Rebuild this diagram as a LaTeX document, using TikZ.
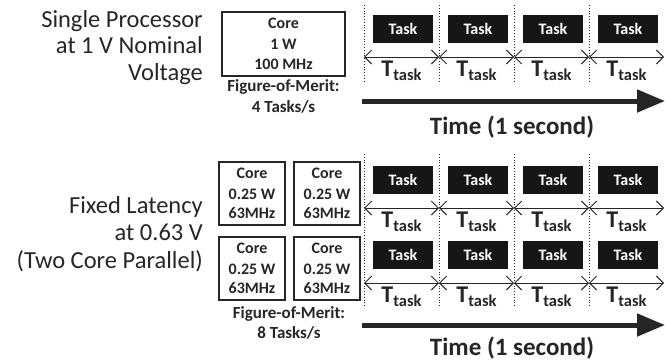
\documentclass[tikz,border=0pt]{standalone}
\usepackage{fontspec}
\setmainfont{Carlito}
\usetikzlibrary{arrows.meta}
\definecolor{ink}{HTML}{262626}
\definecolor{taskfill}{HTML}{161616}
\begin{document}
\begin{tikzpicture}[x=1pt,y=-1pt,
  lbl/.style={font=\fontsize{24.5}{27}\selectfont, text=ink, anchor=base east, inner sep=0},
  corebox/.style={draw=ink, line width=1.2pt, inner sep=0},
  coretxt/.style={font=\bfseries\fontsize{16}{18}\selectfont, text=ink, anchor=base, inner sep=0},
  fom/.style={font=\bfseries\fontsize{17}{20}\selectfont, text=ink, anchor=base, inner sep=0},
  taskbox/.style={fill=taskfill, minimum width=60pt, minimum height=28pt, inner sep=0, text=white, font=\bfseries\fontsize{16}{18}\selectfont},
  divider/.style={draw=ink, line width=0.8pt, dotted},
  tspan/.style={draw=ink, line width=0.9pt, {Straight Barb[length=7pt,width=14pt]}-{Straight Barb[length=7pt,width=14pt]}},
  ttask/.style={font=\bfseries\fontsize{24}{26}\selectfont, text=ink, anchor=base, inner sep=0},
  timearrow/.style={draw=ink, line width=5pt, -{Triangle[length=28pt,width=22pt]}},
  timelbl/.style={font=\bfseries\fontsize{25}{28}\selectfont, text=ink, anchor=base, inner sep=0}
]
\useasboundingbox (0,0) rectangle (666,360);
\newcommand{\ttxt}{T{\fontsize{16.5}{18}\selectfont\raisebox{-4pt}{task}}}

% ---------- top: single processor ----------
\node[lbl] (s1) at (203,27) {Single Processor};
\node[lbl] (s2) at (203,53.5) {at 1 V Nominal};
\node[lbl] (s3) at (203,80) {Voltage};

\node[corebox, minimum width=123pt, minimum height=64pt] (bigcore) at (283.5,44) {};
\node[coretxt] (bc1) at (283.5,28.5) {Core};
\node[coretxt] (bc2) at (283.5,49.5) {1 W};
\node[coretxt] (bc3) at (283.5,69.5) {100 MHz};
\node[fom] (f1) at (283.5,91) {Figure-of-Merit:};
\node[fom] (f2) at (283.5,112) {4 Tasks/s};

\foreach \i in {0,...,3} {
  \coordinate (tdt\i) at ({364+75*\i},5);
  \coordinate (tdb\i) at ({364+75*\i},83);
  \draw[divider] (tdt\i) -- (tdb\i);
  \node[taskbox] (tt\i) at ({364+75*\i+39},29) {Task};
  \node[ttask] (tl\i) at ({364+75*\i+37.5},76) {\ttxt};
}
\foreach \i in {0,...,4} { \coordinate (ta\i) at ({364+75*\i},57); }
\foreach \i [count=\j] in {0,...,3} { \draw[tspan] (ta\i) -- (ta\j); }

\coordinate (tas) at (362,101);
\coordinate (tae) at (665,101);
\draw[timearrow] (tas) -- (tae);
\node[timelbl] (time1) at (512,134) {Time (1 second)};

% ---------- bottom: two core parallel ----------
\node[lbl] (p1) at (203,213) {Fixed Latency};
\node[lbl] (p2) at (203,240.5) {at 0.63 V};
\node[lbl] (p3) at (203,268) {(Two Core Parallel)};

\foreach \cx/\n in {252/a,327/b} {
  \node[corebox, minimum width=66pt, minimum height=63pt] (cu\n) at (\cx,193.5) {};
  \node[coretxt] (cu\n1) at (\cx,178) {Core};
  \node[coretxt] (cu\n2) at (\cx,199) {0.25 W};
  \node[coretxt] (cu\n3) at (\cx,218) {63MHz};
  \node[corebox, minimum width=66pt, minimum height=63pt] (cl\n) at (\cx,268.5) {};
  \node[coretxt] (cl\n1) at (\cx,253) {Core};
  \node[coretxt] (cl\n2) at (\cx,274) {0.25 W};
  \node[coretxt] (cl\n3) at (\cx,293) {63MHz};
}
\node[fom] (g1) at (289,318) {Figure-of-Merit:};
\node[fom] (g2) at (289,338) {8 Tasks/s};

\foreach \i in {0,...,3} {
  \coordinate (bdt\i) at ({364+75*\i},154);
  \coordinate (bdb\i) at ({364+75*\i},306);
  \draw[divider] (bdt\i) -- (bdb\i);
  \node[taskbox] (bu\i) at ({364+75*\i+39},180) {Task};
  \node[taskbox] (bl\i) at ({364+75*\i+39},254.5) {Task};
  \node[ttask] (bul\i) at ({364+75*\i+37.5},227) {\ttxt};
  \node[ttask] (bll\i) at ({364+75*\i+37.5},302) {\ttxt};
}
\foreach \i in {0,...,4} {
  \coordinate (bua\i) at ({364+75*\i},208);
  \coordinate (bla\i) at ({364+75*\i},283);
}
\foreach \i [count=\j] in {0,...,3} {
  \draw[tspan] (bua\i) -- (bua\j);
  \draw[tspan] (bla\i) -- (bla\j);
}

\coordinate (bas) at (362,325);
\coordinate (bae) at (665,325);
\draw[timearrow] (bas) -- (bae);
\node[timelbl] (time2) at (512,355) {Time (1 second)};
\end{tikzpicture}
\end{document}
